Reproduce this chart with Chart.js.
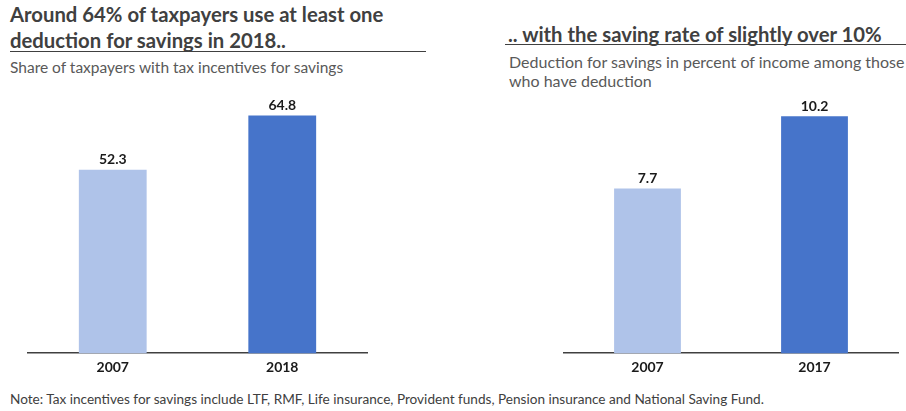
<!DOCTYPE html>
<html>
<head>
<meta charset="utf-8">
<script src="https://cdn.jsdelivr.net/npm/chart.js@4.4.0/dist/chart.umd.min.js"></script>
<style>
  body { margin: 0; width: 906px; height: 411px; background: #fff; position: relative; overflow: hidden; font-family: Lato, 'Open Sans', sans-serif; }
  .title { position: absolute; font-weight: bold; font-size: 20.3px; line-height: 25.5px; color: #404040; white-space: nowrap; }
  .rule { position: absolute; height: 0; border-top: 1.5px solid #404040; }
  .sub { position: absolute; font-size: 15.5px; line-height: 19px; color: #595959; white-space: nowrap; }
  .note { position: absolute; font-size: 13.6px; color: #404040; white-space: nowrap; }
  .box { position: absolute; }
</style>
</head>
<body>
<div class="title" style="left:10px; top:2px;">Around 64% of taxpayers use at least one<br>deduction for savings in 2018..</div>
<div class="rule" style="left:10px; width:416px; top:51px;"></div>
<div class="sub" style="left:10px; top:58px;">Share of taxpayers with tax incentives for savings</div>

<div class="title" style="left:508px; top:22px;">.. with the saving rate of slightly over 10%</div>
<div class="rule" style="left:505px; width:401px; top:44px;"></div>
<div class="sub" style="left:509px; top:52px; font-size:16px;">Deduction for savings in percent of income among those<br>who have deduction</div>

<div class="box" style="left:0; top:80px; width:450px; height:302px;"><canvas id="Chart1"></canvas></div>
<div class="box" style="left:450px; top:80px; width:456px; height:302px;"><canvas id="Chart2"></canvas></div>

<div class="note" style="left:10px; top:391px;">Note: Tax incentives for savings include LTF, RMF, Life insurance, Provident funds, Pension insurance and National Saving Fund.</div>

<script>
// data
var years1 = ['2007', '2018'];
var share = [52.3, 64.8];
var years2 = ['2007', '2017'];
var rate = [7.7, 10.2];
var barColors = ['#AFC3E9', '#4674CA'];

// draws the value above every bar
var valueLabels = {
  id: 'valueLabels',
  afterDatasetsDraw: function(chart) {
    var ctx = chart.ctx;
    ctx.save();
    ctx.font = 'bold 14px Lato, sans-serif';
    ctx.fillStyle = '#1a1a1a';
    ctx.textAlign = 'center';
    ctx.textBaseline = 'middle';
    chart.data.datasets.forEach(function(ds, i) {
      chart.getDatasetMeta(i).data.forEach(function(bar, j) {
        ctx.fillText(ds.data[j].toFixed(1), bar.x, bar.y - 10);
      });
    });
    ctx.restore();
  }
};

function makeChart(id, labels, values, yMin, yMax, pad) {
  var ctx = document.getElementById(id).getContext('2d');
  return new Chart(ctx, {
    type: 'bar',
    data: {
      labels: labels,
      datasets: [{
        data: values,
        backgroundColor: barColors,
        borderWidth: 0,
        barPercentage: 0.4,
        categoryPercentage: 1
      }]
    },
    options: {
      responsive: true,
      maintainAspectRatio: false,
      animation: false,
      layout: { padding: pad },
      plugins: { legend: { display: false }, tooltip: { enabled: false } },
      scales: {
        x: {
          grid: { display: false, drawTicks: false },
          border: { display: true, color: '#404040', width: 1.5 },
          ticks: { color: '#1a1a1a', font: { family: 'Lato', size: 14, weight: 'bold' }, padding: 6 }
        },
        y: {
          display: false,
          min: yMin,
          max: yMax
        }
      }
    },
    plugins: [valueLabels]
  });
}

makeChart('Chart1', years1, share, 10, 70, { left: 28, right: 83, top: 13, bottom: 0 });
makeChart('Chart2', years2, rate, 2, 11, { left: 114, right: 8, top: 13, bottom: 0 });
</script>
</body>
</html>
